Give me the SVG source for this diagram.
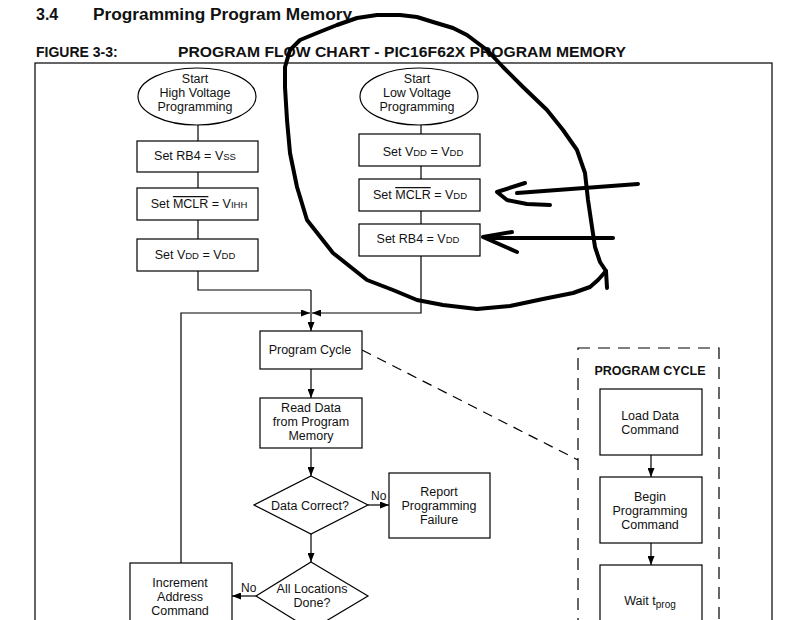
<svg xmlns="http://www.w3.org/2000/svg" width="794" height="620" viewBox="0 0 794 620">
<defs>
<marker id="ah" markerWidth="9" markerHeight="7" refX="9" refY="3.5" orient="auto" markerUnits="userSpaceOnUse">
<path d="M0,0 L9,3.5 L0,7 z" fill="#000"/>
</marker>
<style>
text{font-family:"Liberation Sans",Arial,sans-serif;fill:#111;}
.t{font-size:12.5px;text-anchor:middle;}
.sc{font-size:9.5px;}
.box{fill:#fff;stroke:#000;stroke-width:1.2;}
.ln{fill:none;stroke:#000;stroke-width:1.2;}
.ar{fill:none;stroke:#000;stroke-width:1.2;marker-end:url(#ah);}
.hand{fill:none;stroke:#000;stroke-width:4;stroke-linecap:round;stroke-linejoin:round;}
.h1{font-size:16px;font-weight:bold;}
.h2{font-size:14px;font-weight:bold;}
</style>
</defs>
<rect width="794" height="620" fill="#fff"/>
<text class="h1" x="36" y="20">3.4</text>
<text class="h1" x="93" y="20" textLength="259" lengthAdjust="spacingAndGlyphs">Programming Program Memory</text>
<text class="h2" x="36" y="57">FIGURE 3-3:</text>
<text class="h2" x="178" y="57" textLength="448" lengthAdjust="spacingAndGlyphs">PROGRAM FLOW CHART - PIC16F62X PROGRAM MEMORY</text>
<rect x="35" y="63" width="737" height="620" fill="none" stroke="#000" stroke-width="1.2"/>

<g id="connectors">
<line class="ln" x1="198" y1="125" x2="198" y2="141"/>
<line class="ln" x1="198" y1="172" x2="198" y2="188"/>
<line class="ln" x1="198" y1="220" x2="198" y2="239"/>
<polyline class="ln" points="198,271 198,290 311,290"/>
<line class="ar" x1="311" y1="290" x2="311" y2="331"/>
<line class="ln" x1="421" y1="125" x2="421" y2="134"/>
<line class="ln" x1="421" y1="166" x2="421" y2="179"/>
<line class="ln" x1="421" y1="211" x2="421" y2="224"/>
<polyline class="ar" points="421,256 421,313 312,313"/>
<polyline class="ar" points="181,563 181,313 310,313"/>
<line class="ar" x1="311" y1="369" x2="311" y2="398"/>
<line class="ar" x1="311" y1="448" x2="311" y2="476"/>
<line class="ar" x1="368" y1="505" x2="389" y2="505"/>
<line class="ar" x1="311" y1="534" x2="311" y2="562"/>
<line class="ar" x1="256" y1="596" x2="232" y2="596"/>
<line class="ar" x1="651" y1="455" x2="651" y2="477"/>
<line class="ar" x1="651" y1="543" x2="651" y2="565"/>
<line class="ln" x1="362" y1="350" x2="578" y2="460" stroke-dasharray="10,7"/>
<text x="371" y="500" style="font-size:12px">No</text>
<text x="241" y="592" style="font-size:12px">No</text>
</g>

<g id="start-hv">
<ellipse class="box" cx="197" cy="96.5" rx="59" ry="28.5"/>
<text class="t" x="195" y="83">Start</text>
<text class="t" x="195" y="97">High Voltage</text>
<text class="t" x="195" y="111">Programming</text>
</g>
<g id="hv-rb4">
<rect class="box" x="137" y="141" width="121" height="31"/>
<text class="t" x="195" y="160">Set RB4 = V<tspan class="sc">SS</tspan></text>
</g>
<g id="hv-mclr">
<rect class="box" x="137" y="188" width="121" height="32"/>
<text class="t" x="199" y="208">Set <tspan style="text-decoration:overline">MCLR</tspan> = V<tspan class="sc">IHH</tspan></text>
</g>
<g id="hv-vdd">
<rect class="box" x="137" y="239" width="121" height="32"/>
<text class="t" x="195" y="259">Set V<tspan class="sc">DD</tspan> = V<tspan class="sc">DD</tspan></text>
</g>

<g id="start-lv">
<ellipse class="box" cx="419" cy="96.5" rx="59" ry="28.5"/>
<text class="t" x="417" y="83">Start</text>
<text class="t" x="417" y="97">Low Voltage</text>
<text class="t" x="417" y="111">Programming</text>
</g>
<g id="lv-vdd">
<rect class="box" x="359" y="134" width="121" height="32"/>
<text class="t" x="423" y="156">Set V<tspan class="sc">DD</tspan> = V<tspan class="sc">DD</tspan></text>
</g>
<g id="lv-mclr">
<rect class="box" x="359" y="179" width="121" height="32"/>
<text class="t" x="420" y="199">Set <tspan style="text-decoration:overline">MCLR</tspan> = V<tspan class="sc">DD</tspan></text>
</g>
<g id="lv-rb4">
<rect class="box" x="359" y="224" width="121" height="32"/>
<text class="t" x="418" y="243">Set RB4 = V<tspan class="sc">DD</tspan></text>
</g>

<g id="program-cycle">
<rect class="box" x="260" y="331" width="102" height="38"/>
<text class="t" x="310" y="354">Program Cycle</text>
</g>
<g id="read-data">
<rect class="box" x="260" y="398" width="102" height="50"/>
<text class="t" x="311" y="412">Read Data</text>
<text class="t" x="311" y="426">from Program</text>
<text class="t" x="311" y="440">Memory</text>
</g>
<g id="data-correct">
<polygon class="box" points="311,476 368,505 311,534 254,505"/>
<text class="t" x="310" y="510">Data Correct?</text>
</g>
<g id="report-failure">
<rect class="box" x="389" y="473" width="101" height="65"/>
<text class="t" x="439" y="496">Report</text>
<text class="t" x="439" y="510">Programming</text>
<text class="t" x="439" y="524">Failure</text>
</g>
<g id="all-done">
<polygon class="box" points="311,562 368,596 311,630 256,596"/>
<text class="t" x="312" y="593">All Locations</text>
<text class="t" x="312" y="607">Done?</text>
</g>
<g id="increment">
<rect class="box" x="130" y="563" width="102" height="80"/>
<text class="t" x="180" y="587">Increment</text>
<text class="t" x="180" y="601">Address</text>
<text class="t" x="180" y="615">Command</text>
</g>

<g id="program-cycle-detail">
<rect x="578" y="348" width="141" height="300" fill="none" stroke="#000" stroke-width="1.2" stroke-dasharray="12,8"/>
<text class="t" x="650" y="375" style="font-weight:bold">PROGRAM CYCLE</text>
</g>
<g id="load-data">
<rect class="box" x="600" y="389" width="102" height="66"/>
<text class="t" x="650" y="420">Load Data</text>
<text class="t" x="650" y="434">Command</text>
</g>
<g id="begin-prog">
<rect class="box" x="600" y="477" width="102" height="66"/>
<text class="t" x="650" y="501">Begin</text>
<text class="t" x="650" y="515">Programming</text>
<text class="t" x="650" y="529">Command</text>
</g>
<g id="wait">
<rect class="box" x="600" y="565" width="102" height="80"/>
<text class="t" x="650" y="605">Wait t<tspan style="font-size:10px" dy="3">prog</tspan></text>
</g>

<g id="handdrawn">
<path class="hand" d="M285,87 L285,67 L290,50 L300,40 L317,33 L337,25 L357,18 L377,15 L400,15 L417,17 L433,22 L453,28 L467,35 L487,50 L503,67 L523,87 L547,110 L563,130 L577,150 L585,173 L588,200 L592,227 L595,247 L600,262 L606,271 L607,288"/>
<path class="hand" d="M285,87 L287,120 L290,153 L297,187 L307,220 L333,253 L367,280 L393,290 L417,300 L443,305 L477,309 L510,306 L543,299 L573,293 L590,287 L598,280 L606,271"/>
<path class="hand" d="M638,184 L517,193"/>
<path class="hand" d="M525,183 L497,192 L507,200 L527,204 L550,205"/>
<path class="hand" d="M613,238 L488,238"/>
<path class="hand" d="M512,232 L483,237 L517,252"/>
</g>
</svg>
